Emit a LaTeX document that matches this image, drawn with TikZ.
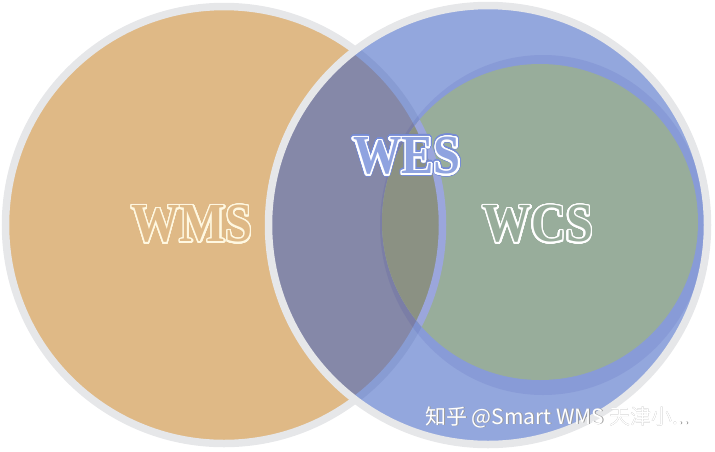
\documentclass[tikz,border=0pt]{standalone}
\usepackage{fontspec}
\setmainfont{Liberation Serif}
\newfontfamily\cjk{Noto Sans CJK SC}
\usepackage{graphicx}
\usepackage[copies]{contour}
\contournumber{32}
\usetikzlibrary{positioning}

\definecolor{wmstan}{RGB}{223,185,134}
\definecolor{rimgray}{RGB}{230,231,233}
\definecolor{wesblue}{RGB}{65,100,195}
\definecolor{wcsgreen}{RGB}{152,173,155}
\definecolor{olivemix}{RGB}{139,145,131}
\definecolor{rimblue}{RGB}{155,166,220}
\definecolor{shadenavy}{RGB}{17,17,151}
\definecolor{cream}{RGB}{255,248,225}
\definecolor{letterblue}{RGB}{143,163,224}
\definecolor{edgeblue}{RGB}{118,140,214}

\newcommand\squeeze[1]{\scalebox{.88}[1]{#1}}

\begin{document}
\begin{tikzpicture}[x=1pt,y=-1pt,
  rim/.style={draw=rimgray,line width=7.5pt},%
  tag/.style={font=\fontsize{55}{60}\selectfont\bfseries,inner sep=0pt},%
  wmark/.style={font=\cjk\fontsize{21}{24}\selectfont,inner sep=0pt,anchor=west},%
  ]
  \useasboundingbox (0,0) rectangle (715,451);

  % WMS
  \fill [wmstan] (224,225) circle (218.5pt);
  \draw [rim] (224,225) circle (218.5pt);

  % WES
  \fill [wesblue,fill opacity=.57] (488,225) circle (219.5pt);
  \begin{scope}
    \clip (488,225) circle (219.5pt);
    \fill [shadenavy,fill opacity=.08] (543,225) ellipse (163pt and 170pt);
  \end{scope}
  \draw [rim] (488,225) circle (219.5pt);

  % WCS
  \fill [wcsgreen] (540,222) circle (158pt);
  \begin{scope}
    \clip (540,222) circle (158pt);
    \fill [olivemix] (224,225) circle (218.5pt);
    \draw [draw=rimblue,line width=7.5pt] (224,225) circle (218.5pt);
  \end{scope}

  \node (wms) [tag,text=wmstan] at (192,225)
  {\contourlength{1.6pt}\squeeze{\contour{cream}{WMS}}};

  \node (wcs) [tag,text=wcsgreen] at (538,225)
  {\contourlength{1.6pt}\squeeze{\contour{white}{WCS}}};

  \node (wesedge) [tag,text=letterblue] at (407,157)
  {\contourlength{2.8pt}\squeeze{\contour{edgeblue}{WES}}};
  \node (wes) [tag,text=letterblue] at (wesedge.center)
  {\contourlength{1.6pt}\squeeze{\contour{white}{WES}}};

  \node (zhihushadow) [wmark,text=black!40] at (425.9,417.9)
  {知乎 @Smart WMS 天津小...};
  \node (zhihu) [wmark,text=white] at (425,417) {知乎 @Smart WMS 天津小...};
\end{tikzpicture}
\end{document}
